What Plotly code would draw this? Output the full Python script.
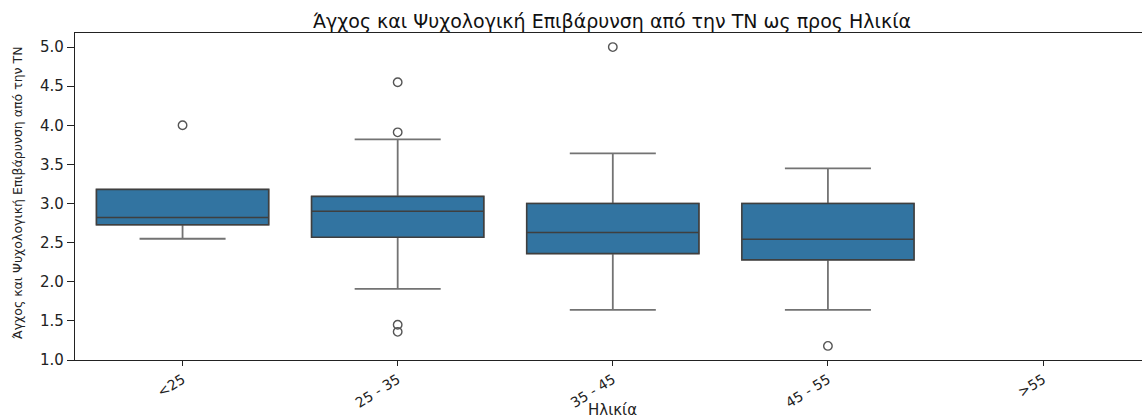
import plotly.graph_objects as go

# Age groups and precomputed box statistics
categories = ["<25", "25 - 35", "35 - 45", "45 - 55", ">55"]
box_groups = ["<25", "25 - 35", "35 - 45", "45 - 55"]
q1 = [2.73, 2.57, 2.36, 2.28]
median = [2.82, 2.90, 2.63, 2.545]
q3 = [3.18, 3.09, 3.00, 3.00]
lower_whisker = [2.55, 1.91, 1.64, 1.64]
upper_whisker = [3.18, 3.82, 3.64, 3.45]

# Outlying observations
outlier_groups = ["<25", "25 - 35", "25 - 35", "25 - 35", "25 - 35", "35 - 45", "45 - 55"]
outlier_values = [4.0, 4.55, 3.91, 1.45, 1.36, 5.0, 1.18]

title_text = "Άγχος και Ψυχολογική Επιβάρυνση από την ΤΝ ως προς Ηλικία"
y_label = "Άγχος και Ψυχολογική Επιβάρυνση από την ΤΝ"
x_label = "Ηλικία"
y_ticks = [1.0, 1.5, 2.0, 2.5, 3.0, 3.5, 4.0, 4.5, 5.0]

FILL = "#3274a1"
EDGE = "#3f3f3f"
WHISKER = "#737373"

fig = go.Figure()

# Whiskers and caps (lighter grey)
fig.add_trace(go.Box(
    x=box_groups, q1=q1, median=median, q3=q3,
    lowerfence=lower_whisker, upperfence=upper_whisker,
    fillcolor=FILL, line=dict(color=WHISKER, width=1.8),
    whiskerwidth=0.5, boxpoints=False, showlegend=False, hoverinfo="skip",
))
# Box body and median (darker edge)
fig.add_trace(go.Box(
    x=box_groups, q1=q1, median=median, q3=q3,
    lowerfence=q1, upperfence=q3,
    fillcolor=FILL, line=dict(color=EDGE, width=1.5),
    whiskerwidth=0.0, boxpoints=False, showlegend=False,
))
# Outliers
fig.add_trace(go.Scatter(
    x=outlier_groups, y=outlier_values, mode="markers",
    marker=dict(symbol="circle-open", size=8.5, color="#555555", line=dict(width=1.4)),
    showlegend=False,
))

font = "DejaVu Sans"
fig.update_layout(
    width=1142, height=419,
    margin=dict(l=75, r=0, t=33, b=59),
    paper_bgcolor="white", plot_bgcolor="white",
    boxmode="overlay", boxgap=0.2, boxgroupgap=0,
    font=dict(family=font, size=14, color="#222222"),
    title=dict(text=title_text, x=612 / 1142, xanchor="center",
               y=1 - 21 / 419, yanchor="middle",
               font=dict(family=font, size=19, color="#111111")),
    xaxis=dict(
        type="category", categoryorder="array", categoryarray=categories,
        range=[-0.5, 4.46], showline=True, linecolor="#222222", linewidth=1.3,
        mirror=True, ticks="outside", ticklen=5, tickcolor="#222222",
        tickangle=-32, showgrid=False, zeroline=False,
        tickfont=dict(size=14),
    ),
    yaxis=dict(
        range=[1.0, 5.18], tickvals=y_ticks, tickformat=".1f",
        showline=True, linecolor="#222222", linewidth=1.3,
        ticks="outside", ticklen=7, tickcolor="#222222",
        showgrid=False, zeroline=False, tickfont=dict(size=15),
    ),
    annotations=[
        dict(text=x_label, xref="paper", yref="paper", x=(612 - 75) / 1067,
             y=(360 - 410) / 327, xanchor="center", yanchor="middle",
             showarrow=False, font=dict(size=15)),
        dict(text=y_label, xref="paper", yref="paper", x=(17 - 75) / 1067,
             y=(360 - 193) / 327, xanchor="center", yanchor="middle",
             textangle=-90, showarrow=False,
             font=dict(family=font, size=12.5)),
    ],
)

fig.write_html("out.html")
